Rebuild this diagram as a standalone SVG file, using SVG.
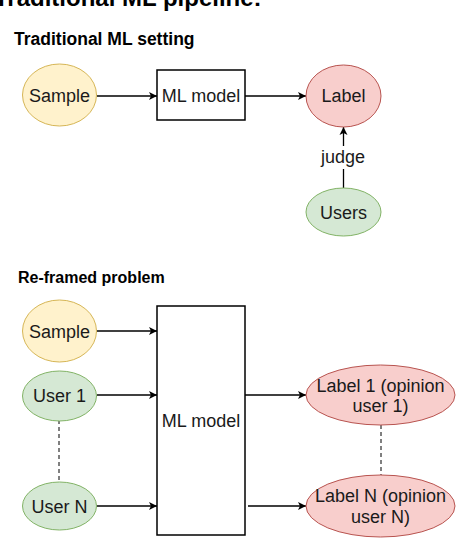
<svg xmlns="http://www.w3.org/2000/svg" width="456" height="538" viewBox="0 0 456 538">
<defs>
<marker id="arr" markerWidth="10" markerHeight="10" refX="8" refY="5" orient="auto" markerUnits="userSpaceOnUse">
<path d="M0,1 L8,5 L0,9 L2,5 Z" fill="#000"/>
</marker>
<style>
.t{font-family:"Liberation Sans",Arial,sans-serif;font-size:18px;fill:#1a1a1a;text-anchor:middle}
.h{font-family:"Liberation Sans",Arial,sans-serif;font-weight:bold;fill:#000}
.y{fill:#fff2cc;stroke:#d6b656;stroke-width:1}
.g{fill:#d5e8d4;stroke:#82b366;stroke-width:1}
.r{fill:#f8cecc;stroke:#b85450;stroke-width:1}
.box{fill:#fff;stroke:#000;stroke-width:1.5}
.c{stroke:#000;stroke-width:1.3;fill:none}
.d{stroke:#000;stroke-width:1;fill:none;stroke-dasharray:4 3}
</style>
</defs>
<rect width="456" height="538" fill="#fff"/>
<text class="h" x="-6" y="6" font-size="24">Traditional ML pipeline:</text>
<text class="h" x="14" y="45" font-size="17.5">Traditional ML setting</text>
<text class="h" x="18" y="283" font-size="16">Re-framed problem</text>

<g id="connectors">
<line class="c" x1="97" y1="96" x2="157" y2="96" marker-end="url(#arr)"/>
<line class="c" x1="245" y1="96" x2="306" y2="96" marker-end="url(#arr)"/>
<line class="c" x1="343.5" y1="188" x2="343.5" y2="127" marker-end="url(#arr)"/>
<rect x="318" y="146" width="50" height="23" fill="#fff"/>
<text class="t" x="343" y="163">judge</text>
<line class="c" x1="97" y1="331" x2="157" y2="331" marker-end="url(#arr)"/>
<line class="c" x1="97" y1="395" x2="157" y2="395" marker-end="url(#arr)"/>
<line class="c" x1="97" y1="506" x2="157" y2="506" marker-end="url(#arr)"/>
<line class="c" x1="245" y1="395" x2="306" y2="395" marker-end="url(#arr)"/>
<line class="c" x1="248" y1="506" x2="306" y2="506" marker-end="url(#arr)"/>
<line class="d" x1="59" y1="420" x2="59" y2="482"/>
<line class="d" x1="381" y1="425" x2="381" y2="475"/>
</g>

<g id="sample1"><ellipse class="y" cx="59.5" cy="95" rx="37" ry="31"/><text class="t" x="59.5" y="101.5">Sample</text></g>
<g id="mlmodel1"><rect class="box" x="157" y="70" width="88" height="50"/><text class="t" x="201" y="101.5">ML model</text></g>
<g id="label1"><ellipse class="r" cx="343.5" cy="96" rx="37.5" ry="31"/><text class="t" x="343.5" y="102">Label</text></g>
<g id="users"><ellipse class="g" cx="343.5" cy="212" rx="37.5" ry="24"/><text class="t" x="343.5" y="218.5">Users</text></g>

<g id="sample2"><ellipse class="y" cx="59.5" cy="331" rx="37" ry="31"/><text class="t" x="59.5" y="337.5">Sample</text></g>
<g id="user1"><ellipse class="g" cx="59.5" cy="396" rx="37" ry="25"/><text class="t" x="59.5" y="402">User 1</text></g>
<g id="userN"><ellipse class="g" cx="59.5" cy="506" rx="37" ry="24"/><text class="t" x="59.5" y="512.5">User N</text></g>
<g id="mlmodel2"><rect class="box" x="157" y="306" width="88" height="229"/><text class="t" x="201" y="427">ML model</text></g>
<g id="labelu1"><ellipse class="r" cx="380.5" cy="395" rx="74.5" ry="30"/><text class="t" x="380.5" y="392">Label 1 (opinion</text><text class="t" x="380.5" y="412">user 1)</text></g>
<g id="labeluN"><ellipse class="r" cx="380.5" cy="506" rx="74.5" ry="31"/><text class="t" x="380.5" y="502">Label N (opinion</text><text class="t" x="380.5" y="523">user N)</text></g>
</svg>
